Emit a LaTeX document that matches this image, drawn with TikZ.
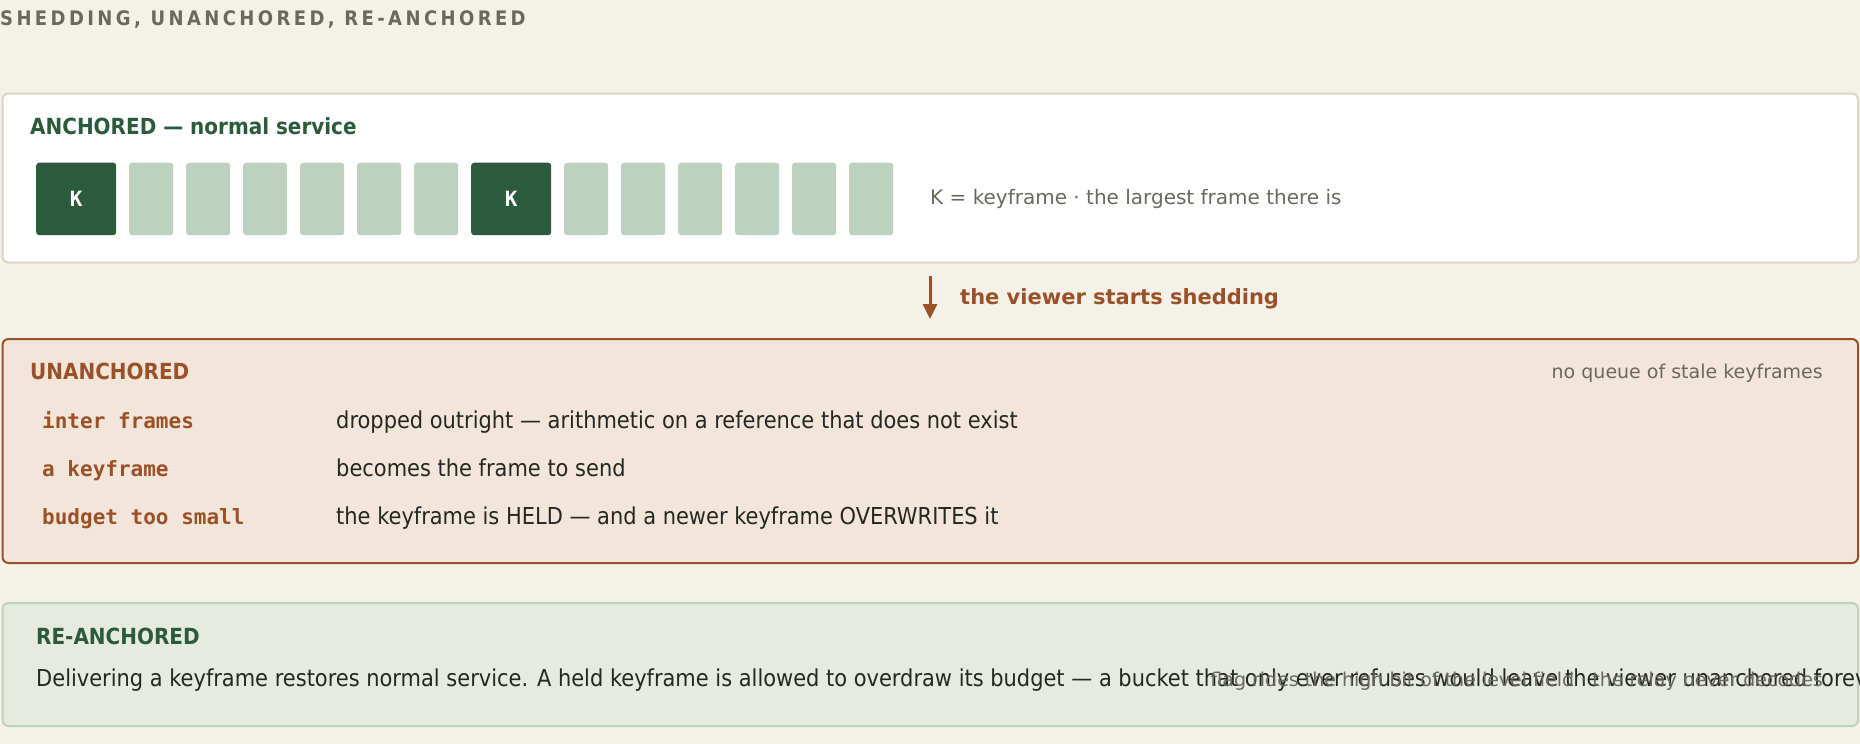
\documentclass[tikz,border=0pt]{standalone}
\usepackage{fontspec}
\usetikzlibrary{arrows.meta}
\setmainfont{DejaVu Sans}
\setmonofont{DejaVu Sans Mono}
\newfontfamily\condf{DejaVu Sans Condensed}[BoldFont={DejaVu Sans Condensed Bold}]
\newfontfamily\titlef{DejaVu Sans Condensed Bold}[LetterSpace=17]
\newcommand\setfs[1]{\fontsize{#1}{#1}\selectfont}
\definecolor{bgc}{HTML}{F4F1E9}
\definecolor{lineone}{HTML}{DCD6C7}
\definecolor{dgreen}{HTML}{2C5A3C}
\definecolor{lgreen}{HTML}{BCD2BE}
\definecolor{brownc}{HTML}{9A5128}
\definecolor{boxtwo}{HTML}{F2E6DB}
\definecolor{boxthree}{HTML}{E5EBE0}
\definecolor{linethree}{HTML}{BCD3BD}
\definecolor{grayc}{HTML}{6B6860}
\definecolor{darkc}{HTML}{262622}
\begin{document}
\begin{tikzpicture}[x=1pt,y=-1pt,
  panel/.style={line width=2pt, rounded corners=6pt, inner sep=0pt, anchor=north west, minimum width=1855.5pt},
  kframe/.style={fill=dgreen, rounded corners=3pt, inner sep=0pt, anchor=north west, minimum width=80pt, minimum height=72.5pt, text=white, font=\ttfamily\bfseries\setfs{21}},
  lframe/.style={fill=lgreen, rounded corners=3pt, inner sep=0pt, anchor=north west, minimum width=44pt, minimum height=72.5pt},
  txt/.style={inner sep=0pt, anchor=base west},
  head/.style={txt, font=\condf\bfseries\setfs{22.2}},
  note/.style={txt, font=\setfs{19}, text=grayc},
  body/.style={txt, font=\condf\setfs{23.3}, text=darkc},
  code/.style={txt, font=\ttfamily\bfseries\setfs{21}, text=brownc},
  arr/.style={draw=brownc, line width=3pt, -{Triangle[length=15pt,width=14pt]}}
]
\fill[bgc] (0,0) rectangle (1860,744);
\useasboundingbox (0,0) rectangle (1860,744);

\node[txt, font=\titlef\setfs{20}, text=grayc] (title) at (0,25) {SHEDDING, UNANCHORED, RE-ANCHORED};

% ANCHORED panel
\node[panel, draw=lineone, fill=white, minimum height=169pt] (anch) at (1.5,92.5) {};
\node[head, text=dgreen] (anchhead) at (30,134.5) {ANCHORED — normal service};
\node[kframe] (k1) at (36,162.5) {K};
\foreach \x [count=\i] in {129,186,243,300,357,414}
  \node[lframe] (fa\i) at (\x,162.5) {};
\node[kframe] (k2) at (471,162.5) {K};
\foreach \x [count=\i] in {564,621,678,735,792,849}
  \node[lframe] (fb\i) at (\x,162.5) {};
\node[txt, font=\setfs{20}, text=grayc] (legend) at (930,204.3) {K = keyframe · the largest frame there is};

% transition arrow
\coordinate (arrs) at (930,276);
\coordinate (arre) at (930,319);
\draw[arr] (arrs) -- (arre);
\node[txt, font=\bfseries\setfs{21}, text=brownc] (shed) at (960,304) {the viewer starts shedding};

% UNANCHORED panel
\node[panel, draw=brownc, fill=boxtwo, minimum height=224pt] (unanch) at (1.5,338) {};
\node[head, text=brownc] (unhead) at (30,379.8) {UNANCHORED};
\node[note, anchor=base east] (noqueue) at (1823,378.5) {no queue of stale keyframes};
\node[code] (c1) at (42,428.5) {inter frames};
\node[body] (d1) at (336,428.5) {dropped outright — arithmetic on a reference that does not exist};
\node[code] (c2) at (42,476.5) {a keyframe};
\node[body] (d2) at (336,476.5) {becomes the frame to send};
\node[code] (c3) at (42,524.5) {budget too small};
\node[body] (d3) at (336,524.5) {the keyframe is HELD — and a newer keyframe OVERWRITES it};

% RE-ANCHORED panel
\node[panel, draw=linethree, fill=boxthree, minimum height=123pt] (reanch) at (1.5,602) {};
\node[head, text=dgreen] (rehead) at (36,644.3) {RE-ANCHORED};
\node[body] (rebody) at (36,686.8) {Delivering a keyframe restores normal service. A held keyframe is allowed to overdraw its budget — a bucket that only ever refuses would leave the viewer unanchored forever.};
\node[note, anchor=base east] (flag) at (1823,686.5) {flag rides the high bit of the level field · the relay never decodes};
\end{tikzpicture}
\end{document}
